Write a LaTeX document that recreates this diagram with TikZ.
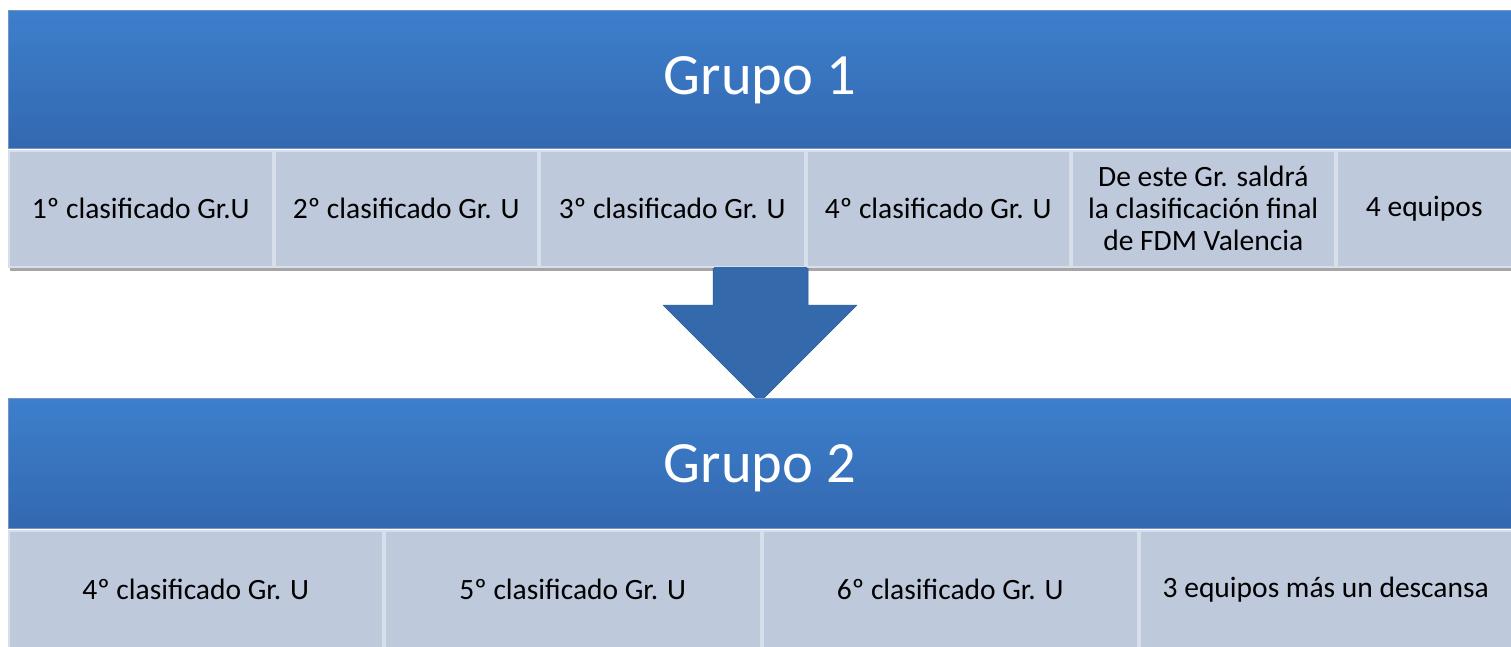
\documentclass[tikz,border=0pt]{standalone}
\usepackage{fontspec}
\setmainfont{Carlito}
\definecolor{hdtop}{HTML}{3D7FCC}
\definecolor{hdbot}{HTML}{3468B0}
\definecolor{cellfill}{HTML}{BFC9DC}
\definecolor{cellline}{HTML}{D8DEEA}
\definecolor{arrowblue}{HTML}{3469AC}
\tikzset{
  header/.style={draw=hdbot!70!white, line width=1pt, top color=hdtop, bottom color=hdbot, inner sep=0pt},
  title/.style={text=white, font=\fontsize{58.5}{64}\selectfont, inner sep=0pt},
  cell/.style={draw=cellline, line width=1.5pt, fill=cellfill, text=black, font=\fontsize{29.5}{32}\selectfont, align=center, inner sep=0pt},
  bigarrow/.style={fill=arrowblue, draw=arrowblue!80!black, line width=0.5pt, line join=round}
}
\begin{document}
\begin{tikzpicture}[x=1pt,y=-1pt]
\useasboundingbox (0,0) rectangle (1511,646);
% shadows
\fill[black!35] (10,268) rectangle (1511,271);
% Arrow
\draw[bigarrow] (713,262) -- (808,262) -- (808,305) -- (857,305) -- (760,402) -- (663,305) -- (713,305) -- cycle;
\node[header, minimum width=1503, minimum height=138, anchor=north west] (g1) at (8,10) {};
\node[title] (g1t) at (760,80) {Grupo 1};
% row 1
\node[cell, minimum width=264, minimum height=116, anchor=north west] (c1) at (8,150) {1º clasificado Gr.U};
\node[cell, minimum width=263, minimum height=116, anchor=north west] (c2) at (274,150) {2º clasificado Gr. U};
\node[cell, minimum width=265, minimum height=116, anchor=north west] (c3) at (539,150) {3º clasificado Gr. U};
\node[cell, minimum width=263, minimum height=116, anchor=north west] (c4) at (806,150) {4º clasificado Gr. U};
\node[cell, minimum width=263, minimum height=116, anchor=north west] (c5) at (1071,150) {De este Gr. saldrá\\la clasificación final\\de FDM Valencia};
\node[cell, minimum width=175, minimum height=116, anchor=north west] (c6) at (1336,150) {4 equipos};
% arrow over row 1 shadow
\fill[arrowblue] (714,267) rectangle (807,306);
\fill[arrowblue] (664,305) -- (856,305) -- (760,401) -- cycle;
% group 2
\node[header, minimum width=1503, minimum height=130, anchor=north west] (g2) at (8,398) {};
\node[title] (g2t) at (760,468) {Grupo 2};
\node[cell, minimum width=374, minimum height=118, anchor=north west] (d1) at (8,530) {4º clasificado Gr. U};
\node[cell, minimum width=376, minimum height=118, anchor=north west] (d2) at (384,530) {5º clasificado Gr. U};
\node[cell, minimum width=375, minimum height=118, anchor=north west] (d3) at (762,530) {6º clasificado Gr. U};
\node[cell, minimum width=372, minimum height=118, anchor=north west] (d4) at (1139,530) {3 equipos más un descansa};
\end{tikzpicture}
\end{document}
